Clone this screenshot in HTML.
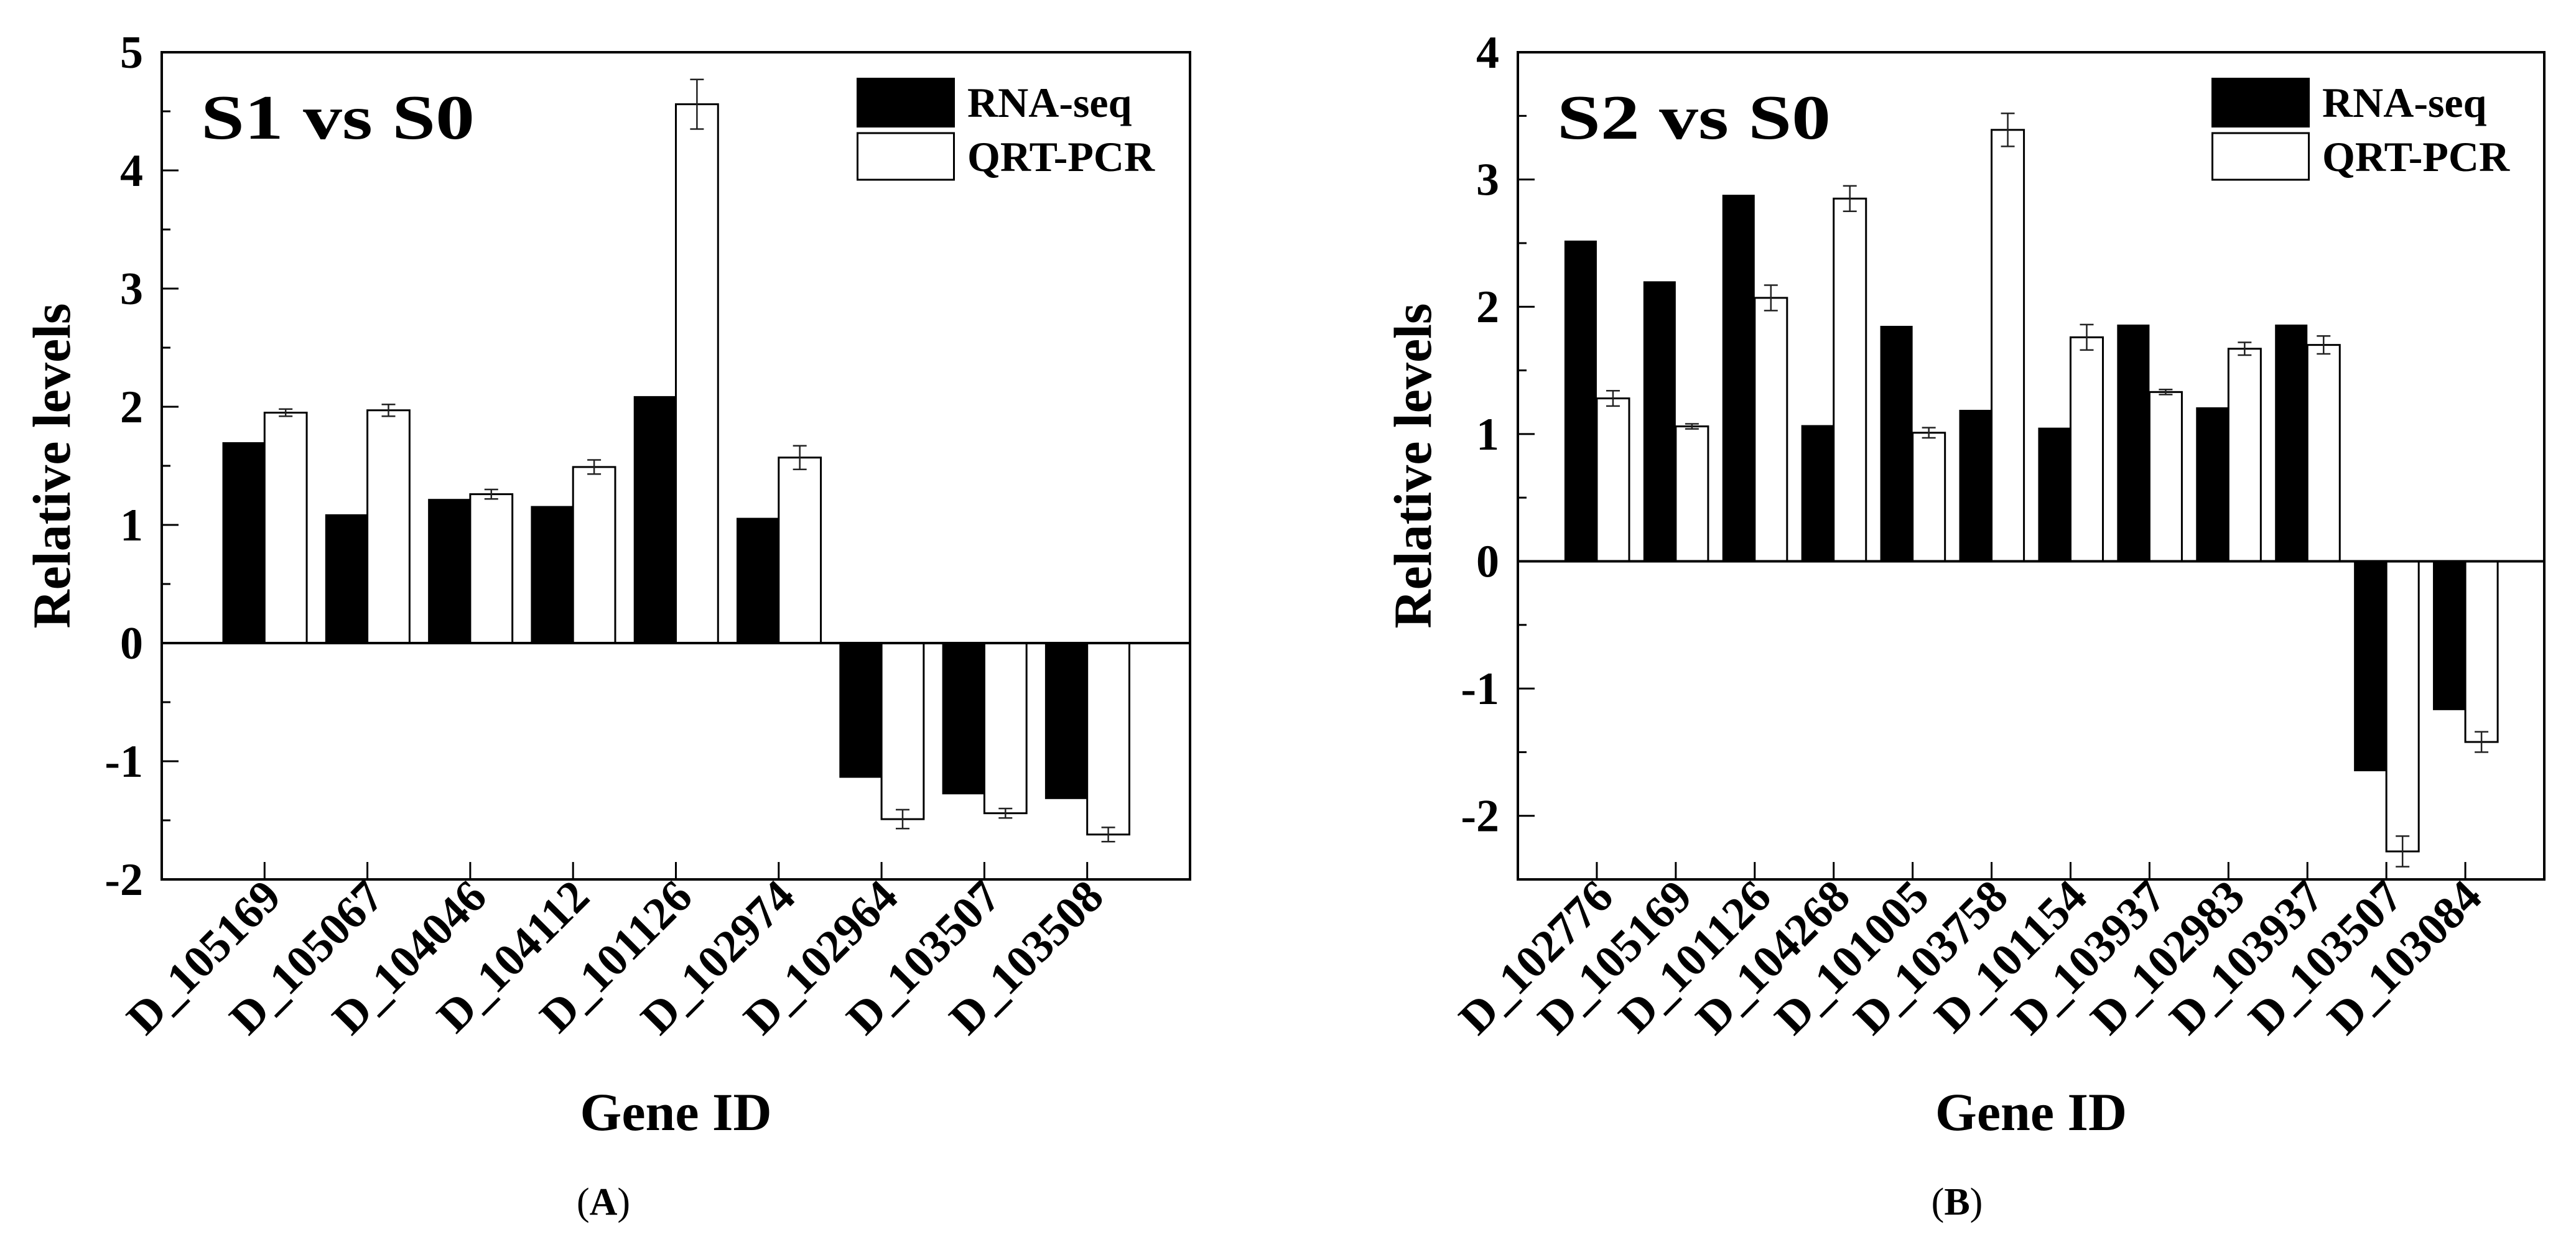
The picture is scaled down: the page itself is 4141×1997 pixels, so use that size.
<!DOCTYPE html>
<html><head><meta charset="utf-8"><style>
html,body{margin:0;padding:0;background:#fff;}
svg{display:block;font-family:"Liberation Serif",serif;}
</style></head><body>
<svg id="fig" width="4141" height="1997" viewBox="0 0 4141 1997" xmlns="http://www.w3.org/2000/svg"></svg>
<script>
// Panel A data
const catsA = ["D_105169","D_105067","D_104046","D_104112","D_101126","D_102974","D_102964","D_103507","D_103508"];
const rnaA = [1.70,1.09,1.22,1.16,2.09,1.06,-1.14,-1.28,-1.32];
const qrtA = [1.95,1.97,1.26,1.49,4.56,1.57,-1.49,-1.44,-1.62];
const errA = [0.03,0.05,0.04,0.06,0.21,0.10,0.08,0.04,0.06];
const ticksA = [-2,-1,0,1,2,3,4,5];
// Panel B data
const catsB = ["D_102776","D_105169","D_101126","D_104268","D_101005","D_103758","D_101154","D_103937","D_102983","D_103937","D_103507","D_103084"];
const rnaB = [2.52,2.20,2.88,1.07,1.85,1.19,1.05,1.86,1.21,1.86,-1.65,-1.17];
const qrtB = [1.28,1.06,2.07,2.85,1.01,3.39,1.76,1.33,1.67,1.70,-2.28,-1.42];
const errB = [0.06,0.02,0.10,0.10,0.04,0.13,0.10,0.02,0.05,0.07,0.12,0.08];
const ticksB = [-2,-1,0,1,2,3,4];

const NS="http://www.w3.org/2000/svg";
const svg=document.getElementById('fig');
function mk(tag,attrs,parent,text){const e=document.createElementNS(NS,tag);for(const k in attrs)e.setAttribute(k,attrs[k]);if(text!==undefined)e.textContent=text;(parent||svg).appendChild(e);return e;}

function panel(cfg){
  const g=mk('g',{});
  
  
  const {x0,x1,y0,y1,ymin,ymax,cats,rna,qrt,err,ticks}=cfg;
  const n=cats.length, step=(x1-x0)/(n+1);
  const X=i=>x0+step*(i+1);
  const Y=v=>y1-(v-ymin)/(ymax-ymin)*(y1-y0);
  const bw=step*0.41;
  // bars
  for(let i=0;i<n;i++){
    const yr=Y(rna[i]), z=Y(0);
    const b=mk('rect',{x:X(i)-bw,y:Math.min(yr,z),width:bw,height:Math.abs(yr-z),fill:'#000'},g);
    
    
    const yq=Y(qrt[i]);
    const q=mk('rect',{x:X(i),y:Math.min(yq,z),width:bw,height:Math.abs(yq-z),fill:'#fff',stroke:'#000','stroke-width':3},g);
    
    
    const cx=X(i)+bw/2, ya=Y(qrt[i]+err[i]), yb=Y(qrt[i]-err[i]);
    const eb=mk('path',{d:`M${cx},${ya}V${yb}M${cx-11},${ya}H${cx+11}M${cx-11},${yb}H${cx+11}`,stroke:'#222','stroke-width':2.5,fill:'none'},g);
    
    
  }
  // zero line
  mk('line',{x1:x0,x2:x1,y1:Y(0),y2:Y(0),stroke:'#000','stroke-width':4},g);
  // frame
  const fr=mk('rect',{x:x0,y:y0,width:x1-x0,height:y1-y0,fill:'none',stroke:'#000','stroke-width':4},g);
  
  
  // y ticks
  for(let v=ticks[0]; v<=ticks[ticks.length-1]+1e-9; v+=0.5){
    const major=Math.abs(v-Math.round(v))<1e-6;
    mk('line',{x1:x0,x2:x0+(major?27:14),y1:Y(v),y2:Y(v),stroke:'#000','stroke-width':3},g);
  }
  ticks.forEach(t=>{
    const tl=mk('text',{x:x0-30,y:Y(t)+25,'text-anchor':'end','font-size':74,'font-weight':'bold'},g,String(t));
    
    
  });
  // x ticks + labels
  for(let i=0;i<n;i++){
    mk('line',{x1:X(i),x2:X(i),y1:y1,y2:y1-28,stroke:'#000','stroke-width':3},g);
    const lx=X(i)+30, ly=y1+32;
    const t=mk('text',{x:lx,y:ly,'text-anchor':'end','font-size':74,'font-weight':'bold',transform:`rotate(-45 ${lx} ${ly})`},g,cats[i]);
    
    
  }
  // y title
  const yt=mk('text',{x:cfg.ylx,y:(y0+y1)/2,'text-anchor':'middle','font-size':86,'font-weight':'bold',transform:`rotate(-90 ${cfg.ylx} ${(y0+y1)/2})`},g,'Relative levels');
  
  
  // x title
  const xt=mk('text',{x:(x0+x1)/2,y:1817,'text-anchor':'middle','font-size':86,'font-weight':'bold'},g,'Gene ID');
  
  
  // panel title
  const pt=mk('text',{x:x0+63,y:223,'font-size':102,'font-weight':'bold',textLength:440,lengthAdjust:'spacingAndGlyphs'},g,cfg.title);
  
  
  // legend
  const lg=mk('g',{},g);
  
  
  const lx=cfg.legx;
  mk('rect',{x:lx,y:125,width:158,height:80,fill:'#000'},lg);
  mk('rect',{x:lx+1.5,y:214,width:155,height:75,fill:'#fff',stroke:'#000','stroke-width':3},lg);
  const l1=mk('text',{x:lx+178,y:188,'font-size':68,'font-weight':'bold'},lg,'RNA-seq');
  
  
  const l2=mk('text',{x:lx+178,y:275,'font-size':68,'font-weight':'bold'},lg,'QRT-PCR');
  
  
  // caption
  const cap=mk('text',{x:cfg.capx,y:1953,'text-anchor':'middle','font-size':62},g);
  
  
  mk('tspan',{},cap,'(');
  mk('tspan',{'font-weight':'bold'},cap,cfg.letter);
  mk('tspan',{},cap,')');
}

panel({name:'chart-a',x0:260,x1:1913,y0:84,y1:1414,ymin:-2,ymax:5,cats:catsA,rna:rnaA,qrt:qrtA,err:errA,ticks:ticksA,ylx:112,title:'S1 vs S0',legx:1377,capx:970,letter:'A'});
panel({name:'chart-b',x0:2440,x1:4090,y0:84,y1:1414,ymin:-2.5,ymax:4,cats:catsB,rna:rnaB,qrt:qrtB,err:errB,ticks:ticksB,ylx:2300,title:'S2 vs S0',legx:3555,capx:3146,letter:'B'});
</script>
</body></html>
